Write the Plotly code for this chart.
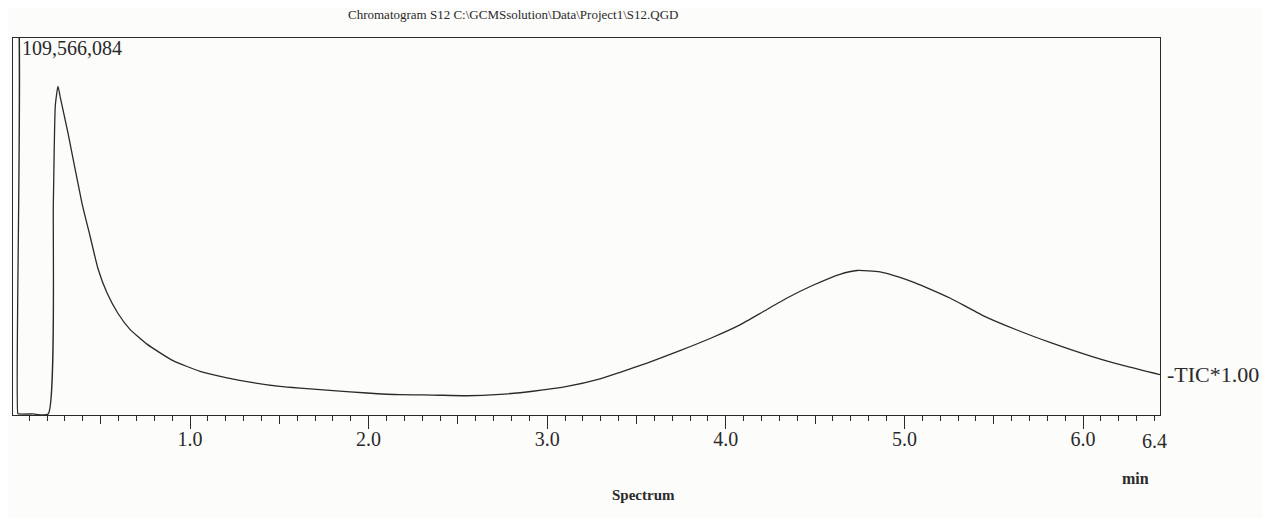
import plotly.graph_objects as go

# retention time (min) and total ion current
time_min = [0.000, 0.030, 0.036, 0.042, 0.120, 0.206, 0.235, 0.246, 0.261,
            0.275, 0.317, 0.395, 0.440, 0.485, 0.535, 0.597, 0.664, 0.759,
            0.905, 1.056, 1.207, 1.353, 1.504, 1.616, 1.801, 1.991, 2.176,
            2.360, 2.551, 2.736, 2.920, 3.111, 3.296, 3.408, 3.559, 3.743,
            3.928, 4.079, 4.208, 4.343, 4.488, 4.639, 4.735, 4.863, 4.975,
            5.060, 5.143, 5.255, 5.440, 5.630, 5.815, 6.056, 6.246, 6.431]
tic = [125.0e6, 125.0e6, 0.4e6, 0.3e6, 0.3e6, 0.3e6, 62.0e6, 90.0e6, 95.5e6,
       92.0e6, 81.9e6, 61.6e6, 52.1e6, 42.5e6, 35.5e6, 29.5e6, 24.9e6, 20.6e6,
       15.8e6, 12.7e6, 10.8e6, 9.4e6, 8.3e6, 7.8e6, 7.1e6, 6.4e6, 5.9e6,
       5.8e6, 5.6e6, 6.0e6, 6.9e6, 8.3e6, 10.5e6, 12.4e6, 15.1e6, 18.7e6,
       22.6e6, 26.2e6, 30.0e6, 34.0e6, 37.7e6, 40.9e6, 42.0e6, 41.6e6, 40.0e6,
       38.4e6, 36.6e6, 34.0e6, 28.9e6, 24.7e6, 21.1e6, 16.9e6, 14.1e6, 11.7e6]

y_max = 109566084
major_ticks = [1, 2, 3, 4, 5, 6]
major_labels = ["1.0", "2.0", "3.0", "4.0", "5.0", "6.0"]
half_ticks = [0.5, 1.5, 2.5, 3.5, 4.5, 5.5]
end_tick = [6.4]
end_label = ["6.4"]

ink = "#2a2a2a"
serif = "Liberation Serif, Times New Roman, serif"

fig = go.Figure()

fig.add_trace(go.Scatter(
    x=time_min, y=tic, mode="lines",
    line=dict(color=ink, width=1.3, shape="spline", smoothing=0.5),
    showlegend=False, hoverinfo="skip"
))

# invisible helpers so the extra tick axes get drawn
fig.add_trace(go.Scatter(x=[], y=[], xaxis="x2", showlegend=False))
fig.add_trace(go.Scatter(x=[], y=[], xaxis="x3", showlegend=False))

x_range = [0.009, 6.431]
tick_font = dict(family=serif, size=20, color=ink)

# the page body adds an 8px margin, so the figure is sized to fit inside it
fig.update_layout(
    width=1263, height=510,
    margin=dict(l=5, r=111, t=30, b=103),
    paper_bgcolor="#fcfcfb",
    plot_bgcolor="#fcfcfb",
    xaxis=dict(
        range=x_range, showgrid=False, zeroline=False,
        showline=True, mirror=True, linecolor=ink, linewidth=1.2,
        tickmode="array", tickvals=major_ticks, ticktext=major_labels,
        ticks="outside", ticklen=13, tickwidth=1.2, tickcolor=ink,
        tickfont=tick_font, ticklabelstandoff=-7,
        minor=dict(dtick=0.1, tick0=0, ticks="outside", ticklen=5,
                   tickwidth=1, tickcolor=ink, showgrid=False),
    ),
    xaxis2=dict(
        range=x_range, matches="x", overlaying="x", anchor="y", side="bottom",
        showgrid=False, zeroline=False, showline=False,
        tickmode="array", tickvals=half_ticks, showticklabels=False,
        ticks="outside", ticklen=8, tickwidth=1.2, tickcolor=ink,
    ),
    xaxis3=dict(
        range=x_range, matches="x", overlaying="x", anchor="y", side="bottom",
        showgrid=False, zeroline=False, showline=False,
        tickmode="array", tickvals=end_tick, ticktext=end_label,
        ticks="outside", ticklen=5, tickwidth=1, tickcolor=ink,
        tickfont=tick_font, ticklabelstandoff=3,
    ),
    yaxis=dict(
        range=[0, y_max], showgrid=False, zeroline=False,
        showline=True, mirror=True, linecolor=ink, linewidth=1.2,
        showticklabels=False, ticks="",
    ),
)

fig.add_annotation(
    text="Chromatogram S12 C:\\GCMSsolution\\Data\\Project1\\S12.QGD",
    xref="paper", yref="paper", x=0.436, y=1, yshift=24,
    xanchor="center", yanchor="middle", showarrow=False,
    font=dict(family=serif, size=13, color=ink)
)
fig.add_annotation(
    text=f"{y_max:,}",
    xref="paper", yref="paper", x=0, y=0.973, xshift=7,
    xanchor="left", yanchor="middle", showarrow=False,
    font=dict(family=serif, size=20, color=ink)
)
fig.add_annotation(
    text="-TIC*1.00",
    xref="paper", yref="y", x=1, y=tic[-1], xshift=5,
    xanchor="left", yanchor="middle", showarrow=False,
    font=dict(family=serif, size=22, color=ink)
)
fig.add_annotation(
    text="<b>min</b>",
    xref="paper", yref="paper", x=0.979, y=0, yshift=-63,
    xanchor="center", yanchor="middle", showarrow=False,
    font=dict(family=serif, size=16, color=ink)
)
fig.add_annotation(
    text="<b>Spectrum</b>",
    xref="paper", yref="paper", x=0.550, y=0, yshift=-80,
    xanchor="center", yanchor="middle", showarrow=False,
    font=dict(family=serif, size=15, color=ink)
)

fig.write_html("out.html")
